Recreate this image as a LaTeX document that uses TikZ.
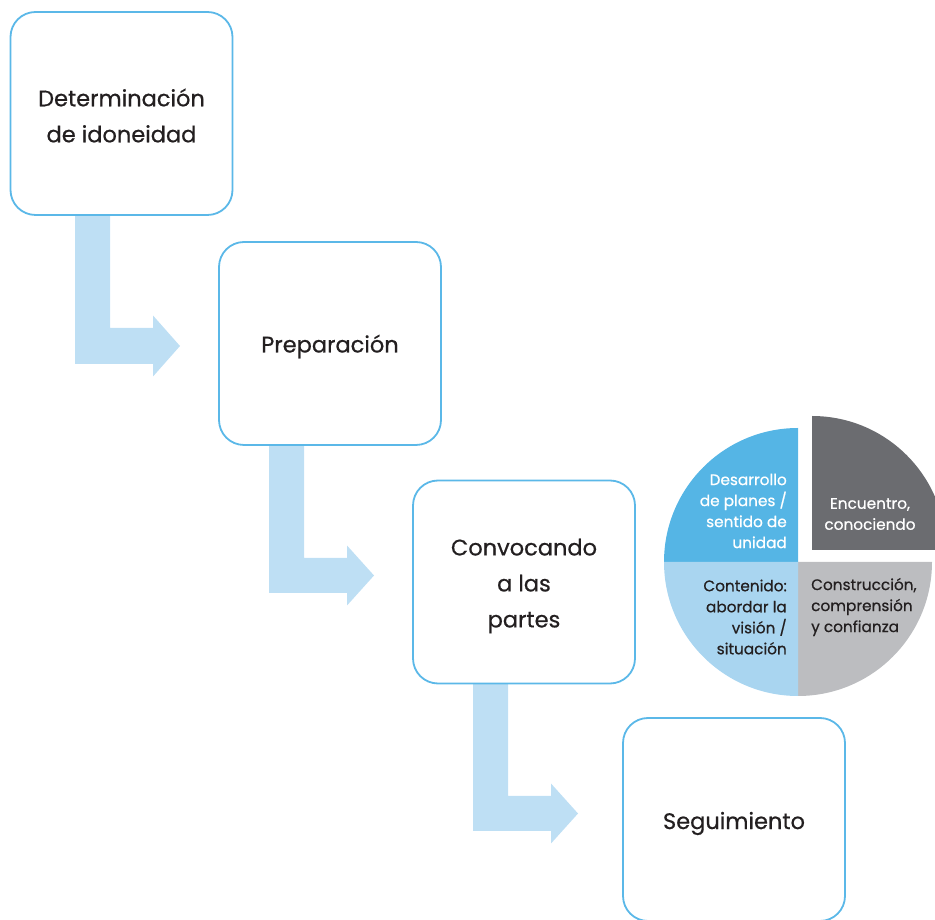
\documentclass[tikz,border=0pt]{standalone}
\usepackage{fontspec}
\setmainfont{Poppins}[FakeBold=0.6]
\definecolor{boxline}{HTML}{5BB8E8}
\definecolor{arrowfill}{HTML}{BEDFF4}
\definecolor{qblue}{HTML}{55B5E5}
\definecolor{qdark}{HTML}{6B6C70}
\definecolor{qgray}{HTML}{BCBDC0}
\definecolor{qlight}{HTML}{A9D5F0}
\definecolor{txt}{HTML}{231F20}
\tikzset{
  stepbox/.style={draw=boxline, line width=1.8pt, rounded corners=25pt, fill=white,
    minimum width=222pt, minimum height=203pt, text=txt, inner sep=0pt},
  boxtext/.style={align=center, text=txt, font=\fontsize{22.5}{36}\selectfont, inner sep=0pt},
  blockarrow/.style={fill=arrowfill, draw=none},
  pietext/.style={font=\fontsize{15.3}{21}\selectfont, inner sep=0pt}
}
\begin{document}
\begin{tikzpicture}[x=1pt,y=1pt]
\useasboundingbox (0,0) rectangle (935,919);
\clip (0,0) rectangle (935,919);
% block arrows
\fill[blockarrow] (75,704) -- (110,704) -- (110,591) -- (153,591) -- (153,603.5) -- (180,573) -- (153,542.5) -- (153,555) -- (75,555) -- cycle;
\fill[blockarrow] (269,474) -- (304,474) -- (304,361) -- (347,361) -- (347,373.5) -- (374,343.5) -- (347,313.5) -- (347,326) -- (269,326) -- cycle;
\fill[blockarrow] (473,236) -- (508,236) -- (508,123) -- (551,123) -- (551,135.5) -- (578,105.5) -- (551,75.5) -- (551,88) -- (473,88) -- cycle;
% boxes
\node[stepbox] (b1) at (121.5,805.5) {};
\node[stepbox] (b2) at (330,575.5) {};
\node[stepbox] (b3) at (524,337) {};
\node[stepbox] (b4) at (734,99.5) {};
\node[boxtext] (t1) at ([yshift=-2pt]b1.center) {Determinación\\de idoneidad};
\node[boxtext] (t2) at ([yshift=-3pt]b2.center) {Preparación};
\node[boxtext] (t3) at ([yshift=-4pt]b3.center) {Convocando\\a las\\partes};
\node[boxtext] (t4) at ([yshift=-4pt]b4.center) {Seguimiento};
% pie
\fill[qblue] (798,357) -- (664,357) arc[start angle=180,end angle=90,radius=134] -- cycle;
\fill[qdark] (812,369) -- (812,503) arc[start angle=90,end angle=0,radius=134] -- cycle;
\fill[qgray] (798,357) -- (932,357) arc[start angle=0,end angle=-90,radius=134] -- cycle;
\fill[qlight] (798,357) -- (798,223) arc[start angle=270,end angle=180,radius=134] -- cycle;
\node[pietext, text=white, align=right, anchor=east] (p1) at (787,408) {Desarrollo\\de planes /\\sentido de\\unidad};
\node[pietext, text=white, align=center] (p2) at (870,405) {Encuentro,\\conociendo};
\node[pietext, text=txt, align=left, anchor=west] (p3) at (811,312) {Construcción,\\comprensión\\y confianza};
\node[pietext, text=txt, align=right, anchor=east] (p4) at (787,302) {Contenido:\\abordar la\\visión /\\situación};
\end{tikzpicture}
\end{document}
